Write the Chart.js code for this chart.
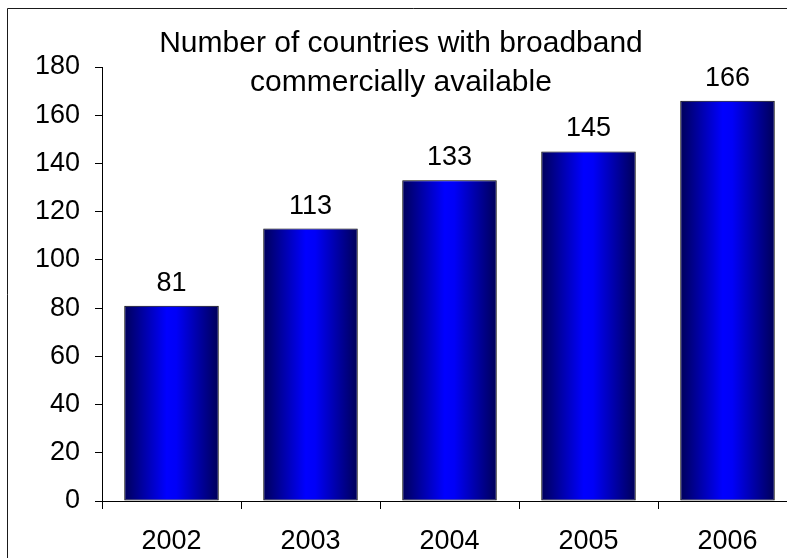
<!DOCTYPE html>
<html>
<head>
<meta charset="utf-8">
<script src="https://cdn.jsdelivr.net/npm/chart.js@4/dist/chart.umd.min.js"></script>
<style>
  html, body { margin: 0; padding: 0; background: #fff; overflow: hidden; }
  #wrap { position: relative; width: 787px; height: 558px; overflow: hidden; }
  canvas { position: absolute; left: 0; top: 0; }
</style>
</head>
<body>
<div id="wrap"><canvas id="c" width="820" height="580"></canvas></div>
<script>
// Countries with commercially available broadband, by year
const years = ['2002', '2003', '2004', '2005', '2006'];
const countries = [81, 113, 133, 145, 166];
const yTicks = [0, 20, 40, 60, 80, 100, 120, 140, 160, 180];
const titleLines = ['Number of countries with broadband', 'commercially available'];

const FONT = '"Liberation Sans", Arial, sans-serif';
const BAR_PCT = 0.68;

// Horizontal navy -> blue -> navy shading across each bar
function barFill(ctx) {
  const chart = ctx.chart;
  const xs = chart.scales && chart.scales.x;
  if (!xs || !chart.chartArea) return '#0000ff';
  const cw = (xs.right - xs.left) / years.length;
  const cx = xs.getPixelForValue(ctx.dataIndex);
  const half = cw * BAR_PCT / 2;
  const g = chart.ctx.createLinearGradient(cx - half, 0, cx + half, 0);
  g.addColorStop(0, '#00005a');
  g.addColorStop(0.45, '#0000ff');
  g.addColorStop(0.55, '#0000f8');
  g.addColorStop(1, '#000058');
  return g;
}

const frameAndText = {
  id: 'frameAndText',
  afterDraw(chart) {
    const c = chart.ctx;
    c.save();
    // outer frame (left and top edges)
    c.strokeStyle = '#1a1a1a';
    c.lineWidth = 1;
    c.beginPath();
    c.moveTo(7.5, chart.height);
    c.lineTo(7.5, 8.5);
    c.lineTo(chart.width, 8.5);
    c.stroke();

    // title inside the plot
    c.fillStyle = '#000';
    c.font = '30px ' + FONT;
    c.textAlign = 'center';
    c.textBaseline = 'alphabetic';
    c.fillText(titleLines[0], 401, 52);
    c.fillText(titleLines[1], 401, 91);

    // value labels above bars
    c.font = '27px ' + FONT;
    const meta = chart.getDatasetMeta(0);
    meta.data.forEach((el, i) => {
      c.fillText(String(countries[i]), el.x, el.y - 15);
    });
    c.restore();
  }
};

new Chart(document.getElementById('c'), {
  type: 'bar',
  data: {
    labels: years,
    datasets: [{
      data: countries,
      backgroundColor: barFill,
      borderColor: '#000',
      borderWidth: 1,
      borderSkipped: false,
      categoryPercentage: 1,
      barPercentage: BAR_PCT
    }]
  },
  options: {
    responsive: false,
    animation: false,
    devicePixelRatio: 1,
    layout: { padding: { left: 0, top: 67, right: 23, bottom: 19 } },
    plugins: { legend: { display: false }, tooltip: { enabled: false } },
    scales: {
      x: {
        afterFit: s => { s.height = 60; },
        grid: { display: true, drawOnChartArea: false, drawTicks: true, tickLength: 8, color: '#000', offset: true },
        border: { display: true, color: '#000', width: 1 },
        ticks: { color: '#000', font: { family: FONT, size: 27 }, padding: 16, maxRotation: 0 }
      },
      y: {
        min: 0, max: 180,
        afterFit: s => { s.width = 102; },
        afterBuildTicks: s => { s.ticks = yTicks.map(v => ({ value: v })); },
        grid: { display: true, drawOnChartArea: false, drawTicks: true, tickLength: 7, color: '#000' },
        border: { display: true, color: '#000', width: 1 },
        ticks: { color: '#000', font: { family: FONT, size: 27 }, padding: 15 }
      }
    }
  },
  plugins: [frameAndText]
});
</script>
</body>
</html>
